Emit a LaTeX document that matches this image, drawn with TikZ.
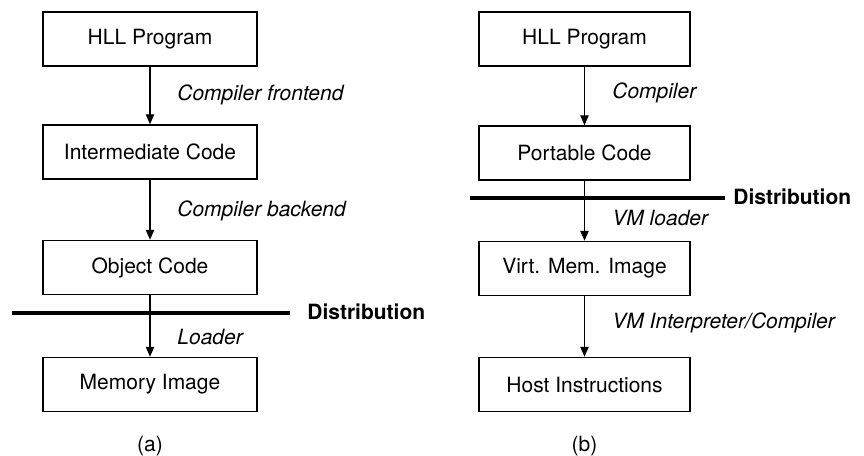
\documentclass[tikz,border=0pt]{standalone}
\usepackage{fontspec}
\setmainfont{TeX Gyre Heros}
\usetikzlibrary{arrows.meta}
\begin{document}
\begin{tikzpicture}[x=0.5pt,y=-0.5pt,
  box/.style={draw,line width=0.75pt,inner sep=0pt,minimum height=27pt,font=\fontsize{10.5}{12}\selectfont},
  lbox/.style={box,minimum width=107pt},
  rbox/.style={box,minimum width=105.5pt},
  flow/.style={line width=0.6pt,-{Triangle[length=5pt,width=4.2pt]}},
  lab/.style={anchor=west,inner sep=0pt,font=\fontsize{10.5}{12}\selectfont\itshape},
  dist/.style={line width=2.2pt},
  distlab/.style={anchor=west,inner sep=0pt,font=\fontsize{10.5}{12}\selectfont\bfseries},
  subcap/.style={inner sep=0pt,font=\fontsize{10.5}{12}\selectfont}]
\useasboundingbox (0,0) rectangle (864,456);
% (a)
\node[lbox] (a1) at (150,39) {HLL Program};
\node[lbox] (a2) at (150,152) {Intermediate Code};
\node[lbox] (a3) at (150,267.5) {Object Code};
\node[lbox] (a4) at (150,384.5) {Memory Image};
\draw[flow] (a1) -- (a2);
\draw[flow] (a2) -- (a3);
\draw[flow] (a3) -- (a4);
\node[lab] (la1) at (177,95) {Compiler frontend};
\node[lab] (la2) at (177,211) {Compiler backend};
\node[lab] (la3) at (177,337) {Loader};
\coordinate (da1) at (12,313);
\coordinate (da2) at (290,313);
\draw[dist] (da1) -- (da2);
\node[distlab] (dla) at (307,312) {Distribution};
\node[subcap] (capa) at (150,446) {(a)};
% (b)
\node[rbox] (b1) at (584.5,39) {HLL Program};
\node[rbox] (b2) at (584.5,153) {Portable Code};
\node[rbox] (b3) at (584.5,268.5) {Virt. Mem. Image};
\node[rbox] (b4) at (584.5,384.5) {Host Instructions};
\draw[flow] (b1) -- (b2);
\draw[flow] (b2) -- (b3);
\draw[flow] (b3) -- (b4);
\node[lab] (lb1) at (612,93) {Compiler};
\node[lab] (lb2) at (612,218) {VM loader};
\node[lab] (lb3) at (612,323) {VM Interpreter/Compiler};
\coordinate (db1) at (470,198);
\coordinate (db2) at (725,198);
\draw[dist] (db1) -- (db2);
\node[distlab] (dlb) at (733,197) {Distribution};
\node[subcap] (capb) at (584.5,446) {(b)};
\end{tikzpicture}
\end{document}
